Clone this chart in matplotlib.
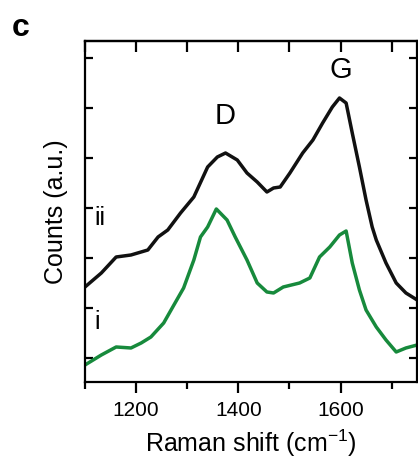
import matplotlib
matplotlib.use("Agg")
import matplotlib.pyplot as plt
from matplotlib.ticker import MultipleLocator, NullFormatter

plt.rcParams['font.family'] = ['Liberation Sans', 'DejaVu Sans']

# Spectrum i (green)
shift_i = [1100, 1132, 1161, 1190, 1210, 1229, 1254, 1274, 1293, 1313, 1326, 1340,
           1357, 1378, 1394, 1417, 1437, 1456, 1469, 1488, 1520, 1540, 1559, 1579,
           1598, 1611, 1623, 1637, 1650, 1670, 1689, 1709, 1728, 1750]
counts_i = [-0.14, 0.06, 0.22, 0.20, 0.30, 0.42, 0.70, 1.06, 1.40, 1.96, 2.42, 2.62,
            2.98, 2.76, 2.42, 1.96, 1.50, 1.32, 1.30, 1.42, 1.50, 1.60, 2.02, 2.22,
            2.46, 2.54, 1.90, 1.36, 0.96, 0.62, 0.36, 0.12, 0.20, 0.26]

# Spectrum ii (black)
shift_ii = [1100, 1132, 1161, 1190, 1223, 1243, 1262, 1287, 1313, 1340, 1359, 1375,
            1398, 1417, 1437, 1456, 1469, 1482, 1501, 1526, 1546, 1565, 1584, 1598,
            1611, 1623, 1637, 1650, 1662, 1670, 1689, 1709, 1728, 1750]
counts_ii = [1.42, 1.70, 2.02, 2.06, 2.16, 2.42, 2.56, 2.90, 3.22, 3.82, 4.02, 4.10,
             3.96, 3.70, 3.52, 3.32, 3.40, 3.42, 3.70, 4.10, 4.36, 4.70, 5.02, 5.20,
             5.10, 4.50, 3.82, 3.16, 2.62, 2.36, 1.90, 1.50, 1.30, 1.16]

fig = plt.figure(figsize=(4.18, 4.66), dpi=100)
ax = fig.add_axes([0.2033, 0.1803, 0.7947, 0.7317])

ax.plot(shift_i, counts_i, color='#178a3c', lw=2.5, solid_joinstyle='round')
ax.plot(shift_ii, counts_ii, color='#111111', lw=2.5, solid_joinstyle='round')

ax.set_xlim(1100, 1750)
ax.set_ylim(-0.48, 6.34)

for s in ax.spines.values():
    s.set_linewidth(1.6)

ax.xaxis.set_major_locator(MultipleLocator(200))
ax.xaxis.set_minor_locator(MultipleLocator(100))
ax.yaxis.set_major_locator(MultipleLocator(1))
ax.yaxis.set_major_formatter(NullFormatter())
ax.tick_params(axis='x', which='major', direction='out', length=8, width=1.6,
               top=False, labelsize=15, pad=6)
ax.tick_params(axis='x', which='minor', direction='out', length=5, width=1.6, top=False)
ax.tick_params(axis='y', which='both', direction='in', length=6, width=1.6,
               left=True, right=True, labelleft=False)

sec = ax.secondary_xaxis('top')
sec.xaxis.set_major_locator(MultipleLocator(100))
sec.tick_params(direction='in', length=8, width=1.6, labeltop=False)
sec.spines['top'].set_linewidth(1.6)

ax.set_xlabel('Raman shift (cm$^{\\mathregular{-1}}$)', fontsize=18, labelpad=5)
ax.set_ylabel('Counts (a.u.)', fontsize=18, labelpad=12)

ax.text(1375, 4.85, 'D', fontsize=21, ha='center', va='center')
ax.text(1600, 5.76, 'G', fontsize=21, ha='center', va='center')
ax.text(1118, 2.8, 'ii', fontsize=18, ha='left', va='center')
ax.text(1118, 0.72, 'i', fontsize=18, ha='left', va='center')

fig.text(12/418, 1 - 28/466, 'c', fontsize=23, fontweight='bold', ha='left', va='center')

fig.savefig('out.png', dpi=100)
